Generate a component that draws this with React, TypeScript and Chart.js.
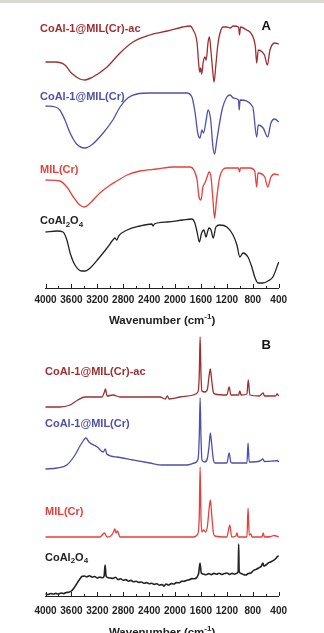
import React, { useEffect, useRef } from 'react';
import { Chart, registerables } from 'chart.js';

Chart.register(...registerables);

const FONT = '"Liberation Sans", Arial, Helvetica, sans-serif';
const INK = '#222222';

const SERIES_NAMES = ['CoAl-1@MIL(Cr)-ac', 'CoAl-1@MIL(Cr)', 'MIL(Cr)', 'CoAl_{2}O_{4}'];
const SERIES_COLORS = ['#9e2f31', '#4f4fae', '#e8403c', '#222222'];
const TICK_VALUES = [4000, 3600, 3200, 2800, 2400, 2000, 1600, 1200, 800, 400];
const AXIS_TITLE = 'Wavenumber (cm^{-1})';

// ---- A: FT-IR spectra (offset transmittance, a.u.) ----
const irAcWn = [4000, 3850, 3700, 3600, 3470, 3390, 3270, 3050, 2850, 2650, 2390, 2120, 1880, 1770, 1720, 1660, 1640, 1620, 1605, 1590, 1565, 1540, 1520, 1490, 1470, 1450, 1420, 1398, 1370, 1340, 1310, 1260, 1200, 1150, 1100, 1020, 1005, 990, 895, 820, 760, 740, 715, 655, 620, 575, 535, 460, 400];
const irAcT = [226, 226, 223, 215, 209, 208, 211, 221, 235, 246, 253, 257, 261, 262, 258, 245, 228, 216, 220, 214, 226, 231, 228, 246, 251, 240, 218, 206, 223, 243, 254, 261, 261, 260, 262, 261, 253, 261, 258, 254, 241, 225, 238, 236, 233, 223, 238, 245, 244];

const irCompWn = [4000, 3850, 3780, 3700, 3620, 3520, 3390, 3270, 3110, 2960, 2850, 2730, 2590, 2390, 2120, 1820, 1740, 1690, 1650, 1615, 1585, 1560, 1520, 1490, 1450, 1415, 1390, 1355, 1275, 1200, 1150, 1100, 1020, 1010, 995, 800, 740, 715, 640, 570, 520, 460, 400];
const irCompT = [182, 181, 178, 168, 155, 144, 140, 144, 155, 168, 181, 190, 194, 195, 195, 195, 191, 175, 155, 150, 158, 155, 168, 178, 168, 141, 134, 148, 178, 191, 193, 190, 188, 178, 188, 181, 151, 163, 160, 151, 165, 169, 166];

const irMilWn = [4000, 3780, 3670, 3570, 3470, 3400, 3310, 3160, 3000, 2900, 2740, 2540, 2280, 2030, 1770, 1710, 1660, 1630, 1600, 1570, 1540, 1505, 1475, 1445, 1415, 1390, 1360, 1310, 1200, 1020, 1005, 990, 840, 770, 740, 720, 615, 570, 520, 460, 400];
const irMilT = [108, 107, 101, 91, 83, 81, 85, 95, 103, 107, 113, 117, 119, 121, 121, 118, 108, 91, 88, 101, 105, 111, 116, 111, 88, 70, 88, 111, 120, 120, 116, 120, 120, 117, 101, 115, 111, 101, 111, 114, 113];

const irSpinelWn = [4000, 3820, 3730, 3670, 3620, 3545, 3440, 3390, 3310, 3200, 3050, 2960, 2930, 2900, 2870, 2740, 2540, 2360, 2340, 2320, 2120, 1880, 1740, 1700, 1660, 1625, 1590, 1555, 1522, 1495, 1476, 1445, 1410, 1370, 1310, 1200, 1105, 1045, 1000, 950, 875, 815, 765, 720, 645, 565, 490, 400];
const irSpinelT = [56, 57, 56, 48, 35, 23, 17, 17, 20, 28, 40, 48, 50, 48, 52, 58, 62, 64, 62, 64, 66, 68, 69, 66, 56, 46, 55, 58, 51, 57, 60, 58, 50, 61, 63, 61, 53, 43, 31, 35, 31, 21, 10, 5, 5, 7, 11, 26];

// ---- B: Raman spectra (offset intensity, a.u.) ----
const ramAcWn = [4000, 3780, 3620, 3500, 3390, 3310, 3130, 3090, 3075, 3050, 2960, 2850, 2540, 2230, 2150, 2120, 2090, 1920, 1720, 1660, 1640, 1626, 1613, 1600, 1585, 1540, 1500, 1475, 1455, 1435, 1410, 1385, 1200, 1165, 1137, 1020, 1000, 980, 890, 870, 845, 700, 640, 620, 450, 426, 400];
const ramAcI = [189, 189, 191, 196, 199, 199, 199, 204, 207, 200, 201, 199, 199, 199, 197, 200, 197, 199, 201, 203, 206, 222, 259, 222, 205, 204, 207, 220, 227, 216, 204, 202, 201, 209, 201, 201, 205, 201, 202, 216, 201, 200, 203, 200, 200, 202, 200];

const ramCompWn = [4000, 3820, 3670, 3545, 3440, 3375, 3330, 3200, 3110, 3075, 3055, 2900, 2650, 2390, 2200, 1820, 1700, 1645, 1626, 1613, 1600, 1585, 1540, 1500, 1475, 1455, 1435, 1410, 1385, 1200, 1165, 1140, 1120, 890, 873, 855, 690, 645, 620, 490, 420, 400];
const ramCompI = [127, 128, 131, 141, 153, 158, 154, 149, 144, 147, 142, 139, 136, 133, 131, 131, 133, 137, 160, 198, 160, 136, 134, 138, 150, 163, 152, 137, 133, 133, 143, 134, 133, 133, 153, 134, 135, 137, 134.5, 135, 135.5, 134];

const ramMilWn = [4000, 3160, 3090, 3050, 2990, 2950, 2930, 2910, 2890, 2850, 2650, 1720, 1650, 1626, 1613, 1600, 1585, 1560, 1530, 1500, 1475, 1455, 1435, 1410, 1385, 1200, 1175, 1155, 1125, 1060, 1045, 1025, 890, 873, 855, 830, 810, 660, 640, 620, 520, 470, 400];
const ramMilI = [59, 59, 63, 59, 60, 64, 67, 63, 65, 59, 59, 59, 62, 80, 129, 80, 64, 66, 64, 70, 87, 96, 82, 64, 60, 59, 66, 71, 59, 60, 63, 59, 59, 88, 61, 62, 59, 59, 63, 59, 59.5, 60.5, 59];

const ramSpinelWn = [4000, 3960, 3920, 3880, 3840, 3800, 3760, 3720, 3680, 3640, 3600, 3560, 3520, 3480, 3440, 3400, 3360, 3320, 3280, 3240, 3200, 3160, 3120, 3095, 3080, 3065, 3040, 3000, 2960, 2920, 2880, 2840, 2800, 2760, 2720, 2680, 2640, 2600, 2560, 2520, 2480, 2440, 2400, 2360, 2320, 2280, 2240, 2200, 2170, 2140, 2100, 2060, 2020, 1980, 1940, 1900, 1860, 1820, 1780, 1740, 1700, 1660, 1635, 1615, 1595, 1560, 1520, 1480, 1440, 1400, 1360, 1320, 1280, 1240, 1200, 1160, 1120, 1080, 1040, 1025, 1018, 1011, 990, 950, 910, 870, 830, 790, 750, 710, 670, 645, 630, 600, 560, 520, 480, 440, 410, 400];
const ramSpinelI = [2, 1.5, 2.5, 1.8, 2.6, 2, 3, 2.4, 3.5, 3.8, 5, 8, 12, 16, 19.5, 20, 19.2, 20.3, 18.8, 19.5, 18, 19, 18.2, 20, 31, 20, 18.5, 18, 17.6, 18.8, 16.4, 17.2, 15.8, 16.4, 14.8, 15.6, 14.2, 14.8, 13.6, 14, 12.8, 13.4, 12.2, 12.8, 11.6, 12.2, 10.8, 11.5, 9.8, 12, 11, 12.4, 12, 13.4, 13.2, 14.6, 14.8, 15.8, 16.2, 17.4, 17.2, 19, 23, 33, 23, 22, 21.2, 22.4, 21.4, 22.6, 21.8, 22.8, 21.6, 22.4, 23, 21.6, 22.6, 21.8, 23, 25, 52, 25, 22.7, 21.6, 21, 22.4, 23, 25.4, 26.6, 28, 29.8, 33, 30, 31, 33, 34.2, 35.6, 37.8, 40, 39.5];

type Series = { wn: number[]; vals: number[]; width: number };
type PanelSpec = {
  letter: string;
  top: number;
  height: number;
  padTop: number;
  yMax: number;
  axisHeight: number;
  tickPad: number;
  titleGap: number;
  labelDx: number;
  labelYs: number[];
  letterY: number;
  series: Series[];
};

const PANELS: PanelSpec[] = [
  {
    letter: 'A', top: 0, height: 333, padTop: 10, yMax: 278, axisHeight: 45,
    tickPad: 6, titleGap: 33, labelDx: -5.5, labelYs: [259, 191.5, 118, 67], letterY: 262,
    series: [
      { wn: irAcWn, vals: irAcT, width: 1.3 },
      { wn: irCompWn, vals: irCompT, width: 1.3 },
      { wn: irMilWn, vals: irMilT, width: 1.3 },
      { wn: irSpinelWn, vals: irSpinelT, width: 1.3 },
    ],
  },
  {
    letter: 'B', top: 333, height: 300, padTop: 0, yMax: 263, axisHeight: 37,
    tickPad: 9, titleGap: 37, labelDx: -0.5, labelYs: [224.5, 172.5, 84.5, 38.5], letterY: 251,
    series: [
      { wn: ramAcWn, vals: ramAcI, width: 1.3 },
      { wn: ramCompWn, vals: ramCompI, width: 1.3 },
      { wn: ramMilWn, vals: ramMilI, width: 1.3 },
      { wn: ramSpinelWn, vals: ramSpinelI, width: 1.6 },
    ],
  },
];

type Part = { text: string; shift: number };

// "x_{2}" -> subscript, "x^{-1}" -> superscript
function parseRich(s: string): Part[] {
  const parts: Part[] = [];
  const re = /([_^])\{([^}]*)\}/g;
  let last = 0;
  let m: RegExpExecArray | null;
  while ((m = re.exec(s))) {
    if (m.index > last) parts.push({ text: s.slice(last, m.index), shift: 0 });
    parts.push({ text: m[2], shift: m[1] === '^' ? 1 : -1 });
    last = re.lastIndex;
  }
  if (last < s.length) parts.push({ text: s.slice(last), shift: 0 });
  return parts;
}

function drawRich(ctx: CanvasRenderingContext2D, s: string, x: number, y: number, size: number, color: string, align: 'left' | 'center') {
  const parts = parseRich(s);
  const small = Math.round(size * 0.72);
  const fontFor = (p: Part) => `bold ${p.shift ? small : size}px ${FONT}`;
  let w = 0;
  for (const p of parts) {
    ctx.font = fontFor(p);
    w += ctx.measureText(p.text).width;
  }
  let cx = align === 'center' ? x - w / 2 : x;
  ctx.fillStyle = color;
  ctx.textAlign = 'left';
  ctx.textBaseline = 'middle';
  for (const p of parts) {
    ctx.font = fontFor(p);
    const dy = p.shift === 1 ? -size * 0.38 : p.shift === -1 ? size * 0.32 : 0;
    ctx.fillText(p.text, cx, y + dy);
    cx += ctx.measureText(p.text).width;
  }
}

const spectraDecor = {
  id: 'spectraDecor',
  afterDraw(chart: any, _args: any, opts: any) {
    const { ctx, chartArea } = chart;
    const xs = chart.scales.x;
    const ys = chart.scales.y;
    ctx.save();
    // inward ticks: long at labelled values, short half-way between
    ctx.strokeStyle = INK;
    ctx.lineWidth = 1;
    const vals: number[] = [];
    for (let i = 0; i < TICK_VALUES.length; i++) {
      vals.push(TICK_VALUES[i]);
      if (i < TICK_VALUES.length - 1) vals.push((TICK_VALUES[i] + TICK_VALUES[i + 1]) / 2);
    }
    vals.forEach((v) => {
      const major = TICK_VALUES.includes(v);
      const px = Math.round(xs.getPixelForValue(v)) + 0.5;
      ctx.beginPath();
      ctx.moveTo(px, chartArea.bottom);
      ctx.lineTo(px, chartArea.bottom - (major ? 4 : 2));
      ctx.stroke();
    });
    // series names
    opts.labelYs.forEach((yv: number, i: number) => {
      drawRich(ctx, SERIES_NAMES[i], chartArea.left + opts.labelDx, ys.getPixelForValue(yv), 11, SERIES_COLORS[i], 'left');
    });
    // panel letter
    drawRich(ctx, opts.letter, chartArea.right - 12.5, ys.getPixelForValue(opts.letterY), 13, '#111111', 'center');
    // axis title
    drawRich(ctx, AXIS_TITLE, (chartArea.left + chartArea.right) / 2, chartArea.bottom + opts.titleGap, 11.5, INK, 'center');
    ctx.restore();
  },
};

function SpectraPanel({ spec }: { spec: PanelSpec }) {
  const ref = useRef<HTMLCanvasElement>(null);
  useEffect(() => {
    const chart = new Chart(ref.current as HTMLCanvasElement, {
      type: 'line',
      data: {
        datasets: spec.series.map((s, i) => ({
          label: SERIES_NAMES[i],
          data: s.wn.map((x, j) => ({ x, y: s.vals[j] })),
          borderColor: SERIES_COLORS[i],
          borderWidth: s.width,
          pointRadius: 0,
          fill: false,
          cubicInterpolationMode: 'monotone',
          clip: false,
        })),
      },
      options: {
        responsive: false,
        animation: false,
        events: [],
        layout: { padding: { left: 45.5, right: 45.3, top: spec.padTop, bottom: 0 } },
        scales: {
          x: {
            type: 'linear',
            reverse: true,
            min: 400,
            max: 4000,
            afterBuildTicks: (scale: any) => {
              scale.ticks = TICK_VALUES.map((v) => ({ value: v }));
            },
            afterFit: (scale: any) => {
              scale.height = spec.axisHeight;
            },
            grid: { display: false, drawTicks: false },
            border: { display: true, color: INK, width: 1 },
            ticks: {
              font: { family: FONT, size: 10, weight: 'bold' },
              color: INK,
              padding: spec.tickPad,
              maxRotation: 0,
              autoSkip: false,
              callback: (v: any) => String(v),
            },
          },
          y: { display: false, min: 0, max: spec.yMax },
        },
        plugins: {
          legend: { display: false },
          tooltip: { enabled: false },
          spectraDecor: { labelYs: spec.labelYs, labelDx: spec.labelDx, letter: spec.letter, letterY: spec.letterY, titleGap: spec.titleGap },
        } as any,
      } as any,
      plugins: [spectraDecor],
    });
    return () => chart.destroy();
  }, [spec]);
  return (
    <canvas
      ref={ref}
      width={324}
      height={spec.height}
      style={{ position: 'absolute', left: 0, top: spec.top, width: 324, height: spec.height, display: 'block' }}
    />
  );
}

export default function App() {
  return (
    <div style={{ position: 'absolute', left: 0, top: 0, width: 324, height: 633, background: '#ffffff', overflow: 'hidden' }}>
      <div style={{ position: 'absolute', left: 0, top: 0, width: 324, height: 3, background: '#d9d9d0' }} />
      {PANELS.map((p) => (
        <SpectraPanel key={p.letter} spec={p} />
      ))}
    </div>
  );
}
